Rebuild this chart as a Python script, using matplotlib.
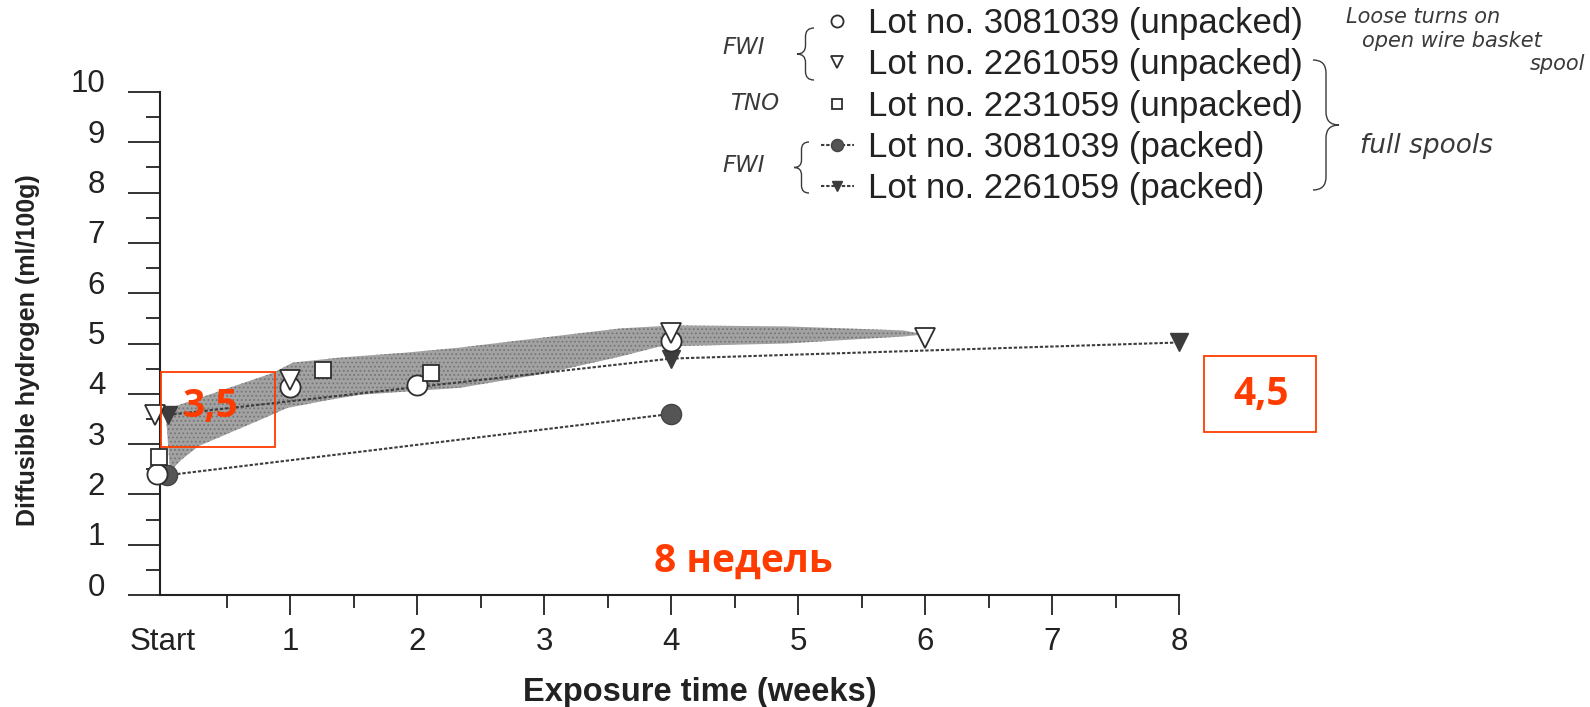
import matplotlib.pyplot as plt
import matplotlib.transforms as mtransforms
from matplotlib.path import Path
from matplotlib.patches import PathPatch, Rectangle
import numpy as np

W, H = 1590, 707

# unpacked, FWI lot 3081039 (open circles)
x_u3081 = [-0.05, 1.0, 2.0, 4.0]
y_u3081 = [2.40, 4.14, 4.18, 5.05]
# unpacked, FWI lot 2261059 (open triangles)
x_u2261 = [-0.06, 1.0, 4.0, 6.0]
y_u2261 = [3.58, 4.28, 5.20, 5.10]
# unpacked, TNO lot 2231059 (open squares)
x_u2231 = [-0.03, 1.26, 2.11]
y_u2231 = [2.74, 4.48, 4.42]
# packed, FWI lot 3081039 (filled circles)
x_p3081 = [0.03, 4.0]
y_p3081 = [2.38, 3.60]
# packed, FWI lot 2261059 (filled triangles)
x_p2261 = [0.04, 4.0, 8.0]
y_p2261 = [3.58, 4.70, 5.02]

# grey scatter band of the unpacked results
band_x_top = [0.02, 0.08, 0.87, 1.02, 1.39, 1.92, 2.34, 3.0, 3.6, 4.02, 4.91, 5.83, 6.0]
band_y_top = [3.66, 3.74, 4.42, 4.62, 4.72, 4.82, 4.92, 5.12, 5.30, 5.36, 5.34, 5.26, 5.18]
band_x_bot = [0.055, 0.15, 0.28, 0.8, 0.98, 1.31, 1.55, 2.34, 3.0, 3.6, 3.91, 4.91, 5.83, 6.0]
band_y_bot = [2.46, 2.70, 2.96, 3.52, 3.72, 3.88, 3.98, 4.12, 4.40, 4.74, 4.94, 5.00, 5.14, 5.18]

x_ticks = [0, 1, 2, 3, 4, 5, 6, 7, 8]
x_ticklabels = ['Start', '1', '2', '3', '4', '5', '6', '7', '8']
y_ticks = list(range(0, 11))

labels = ['Lot no. 3081039 (unpacked)', 'Lot no. 2261059 (unpacked)',
          'Lot no. 2231059 (unpacked)', 'Lot no. 3081039 (packed)',
          'Lot no. 2261059 (packed)']

ink = '#2e2e2e'
red = '#ff3c00'
hand = '#3a3a3a'


def px(x, y):
    return x / W, 1 - y / H


def brace(x_tip, y_top, y_bot, width, direction, y_tip=None):
    # curly brace in figure pixels, direction +1 -> '}', -1 -> '{'
    xb = x_tip - direction * width
    xm = x_tip - direction * width / 2
    ym = (y_top + y_bot) / 2 if y_tip is None else y_tip
    r = width / 2
    verts = [(xb, y_top), (xm, y_top), (xm, y_top + r), (xm, ym - r),
             (xm, ym), (x_tip, ym), (xm, ym), (xm, ym + r),
             (xm, y_bot - r), (xm, y_bot), (xb, y_bot)]
    codes = [Path.MOVETO, Path.CURVE3, Path.CURVE3, Path.LINETO,
             Path.CURVE3, Path.CURVE3, Path.CURVE3, Path.CURVE3,
             Path.LINETO, Path.CURVE3, Path.CURVE3]
    verts = [px(a, b) for a, b in verts]
    fig.add_artist(PathPatch(Path(verts, codes), transform=fig.transFigure,
                             fill=False, lw=1.0, color=hand))


plt.rcParams['font.family'] = ['Liberation Sans', 'DejaVu Sans']
plt.rcParams['hatch.linewidth'] = 0.8

fig = plt.figure(figsize=(W / 100, H / 100), dpi=100)
fig.patch.set_facecolor('white')
ax = fig.add_axes([160 / W, 1 - 595 / H, (1179 - 160) / W, (595 - 92) / H])

bx = np.concatenate([band_x_top, band_x_bot[::-1]])
by = np.concatenate([band_y_top, band_y_bot[::-1]])
ax.fill(bx, by, facecolor='#a2a2a2', edgecolor='#767676', lw=0, hatch='....', zorder=1)

ms = 14.5
h1, = ax.plot(x_u3081, y_u3081, 'o', ms=ms, mfc='white', mec=ink, mew=1.3, ls='none',
              zorder=4, clip_on=False)
h2, = ax.plot(x_u2261, y_u2261, 'v', ms=ms, mfc='white', mec=ink, mew=1.3, ls='none',
              zorder=5, clip_on=False)
h3, = ax.plot(x_u2231, y_u2231, 's', ms=11.5, mfc='white', mec=ink, mew=1.3, ls='none',
              zorder=4, clip_on=False)
h4, = ax.plot(x_p3081, y_p3081, 'o', ms=ms, color='#3c3c3c', mfc='#555555', mec='#444444',
              ls=(0, (1.6, 0.9)), lw=1.5, zorder=3, clip_on=False)
h5, = ax.plot(x_p2261, y_p2261, 'v', ms=13, color='#3c3c3c',
              ls=(0, (1.6, 0.9)), lw=1.5, zorder=3, clip_on=False)

ax.set_xlim(-0.024, 8.0)
ax.set_ylim(0, 10)
for s in ['top', 'right']:
    ax.spines[s].set_visible(False)
for s in ['left', 'bottom']:
    ax.spines[s].set_linewidth(1.5)
    ax.spines[s].set_color('#222222')

ax.set_xticks(x_ticks)
ax.set_xticklabels(x_ticklabels)
ax.set_xticks(np.arange(0.5, 8, 1), minor=True)
ax.set_yticks(y_ticks)
ax.set_yticks(np.arange(0.5, 10, 1), minor=True)
ax.tick_params(axis='y', which='major', direction='out', length=23, width=1.3,
               pad=16.5, labelsize=22.5, colors='#222222')
ax.tick_params(axis='y', which='minor', direction='out', length=10, width=1.3, colors='#222222')
ax.tick_params(axis='x', which='major', direction='out', length=14.5, width=1.3,
               pad=8.5, labelsize=22.5, colors='#222222')
ax.tick_params(axis='x', which='minor', direction='out', length=9.5, width=1.3, colors='#222222')
ax.xaxis.get_major_ticks()[0].tick1line.set_visible(False)

shift = mtransforms.ScaledTranslation(0, 11 / 100, fig.dpi_scale_trans)
for lab in ax.get_yticklabels():
    lab.set_transform(lab.get_transform() + shift)

fig.text(*px(28, 350), 'Diffusible hydrogen (ml/100g)', rotation=90, ha='center', va='center',
         fontsize=18, fontweight='bold', color='#222222')
fig.text(*px(700, 692), 'Exposure time (weeks)', ha='center', va='center',
         fontsize=23.5, fontweight='bold', color='#222222')

leg = ax.legend([h1, h2, h3, h4, h5], labels, loc='upper left',
                bbox_to_anchor=px(821, 7), bbox_transform=fig.transFigure,
                frameon=False, fontsize=25, markerscale=0.6, handlelength=0.95,
                handletextpad=0.4, labelspacing=0.24, borderpad=0, borderaxespad=0)
for t in leg.get_texts():
    t.set_color('#222222')

# handwritten notes
hkw = dict(fontsize=15, style='italic', color=hand, family=['DejaVu Sans'])
fig.text(*px(744, 48), 'FWI', ha='center', va='center', fontsize=16.5,
         **{k: v for k, v in hkw.items() if k != 'fontsize'})
fig.text(*px(755, 104), 'TNO', ha='center', va='center', fontsize=16.5,
         **{k: v for k, v in hkw.items() if k != 'fontsize'})
fig.text(*px(744, 166), 'FWI', ha='center', va='center', fontsize=16.5,
         **{k: v for k, v in hkw.items() if k != 'fontsize'})
fig.text(*px(1346, 17), 'Loose turns on', ha='left', va='center', **hkw)
fig.text(*px(1362, 41), 'open wire basket', ha='left', va='center', **hkw)
fig.text(*px(1585, 64), 'spool', ha='right', va='center', **hkw)
fig.text(*px(1360, 146), 'full spools', ha='left', va='center', fontsize=19,
         **{k: v for k, v in hkw.items() if k != 'fontsize'})
brace(797, 28, 80, 17, -1)
brace(794, 142, 193, 15, -1)
brace(1339, 60, 190, 26, 1, y_tip=125)

# red overlays
for x0, y0, x1, y1 in [(161, 372, 275, 447), (1204, 356, 1316, 432)]:
    a = px(x0, y1)
    fig.add_artist(Rectangle(a, (x1 - x0) / W, (y1 - y0) / H, transform=fig.transFigure,
                             fill=False, lw=1.3, edgecolor=red))
rkw = dict(ha='center', va='center', fontsize=28, fontweight='bold', color=red,
           family=['Open Sans', 'DejaVu Sans'])
fig.text(*px(210, 407), '3,5', **rkw)
fig.text(*px(1261, 394), '4,5', **rkw)
fig.text(*px(743, 561), '8 недель', **rkw)

fig.savefig('out.png', dpi=100, facecolor='white')
